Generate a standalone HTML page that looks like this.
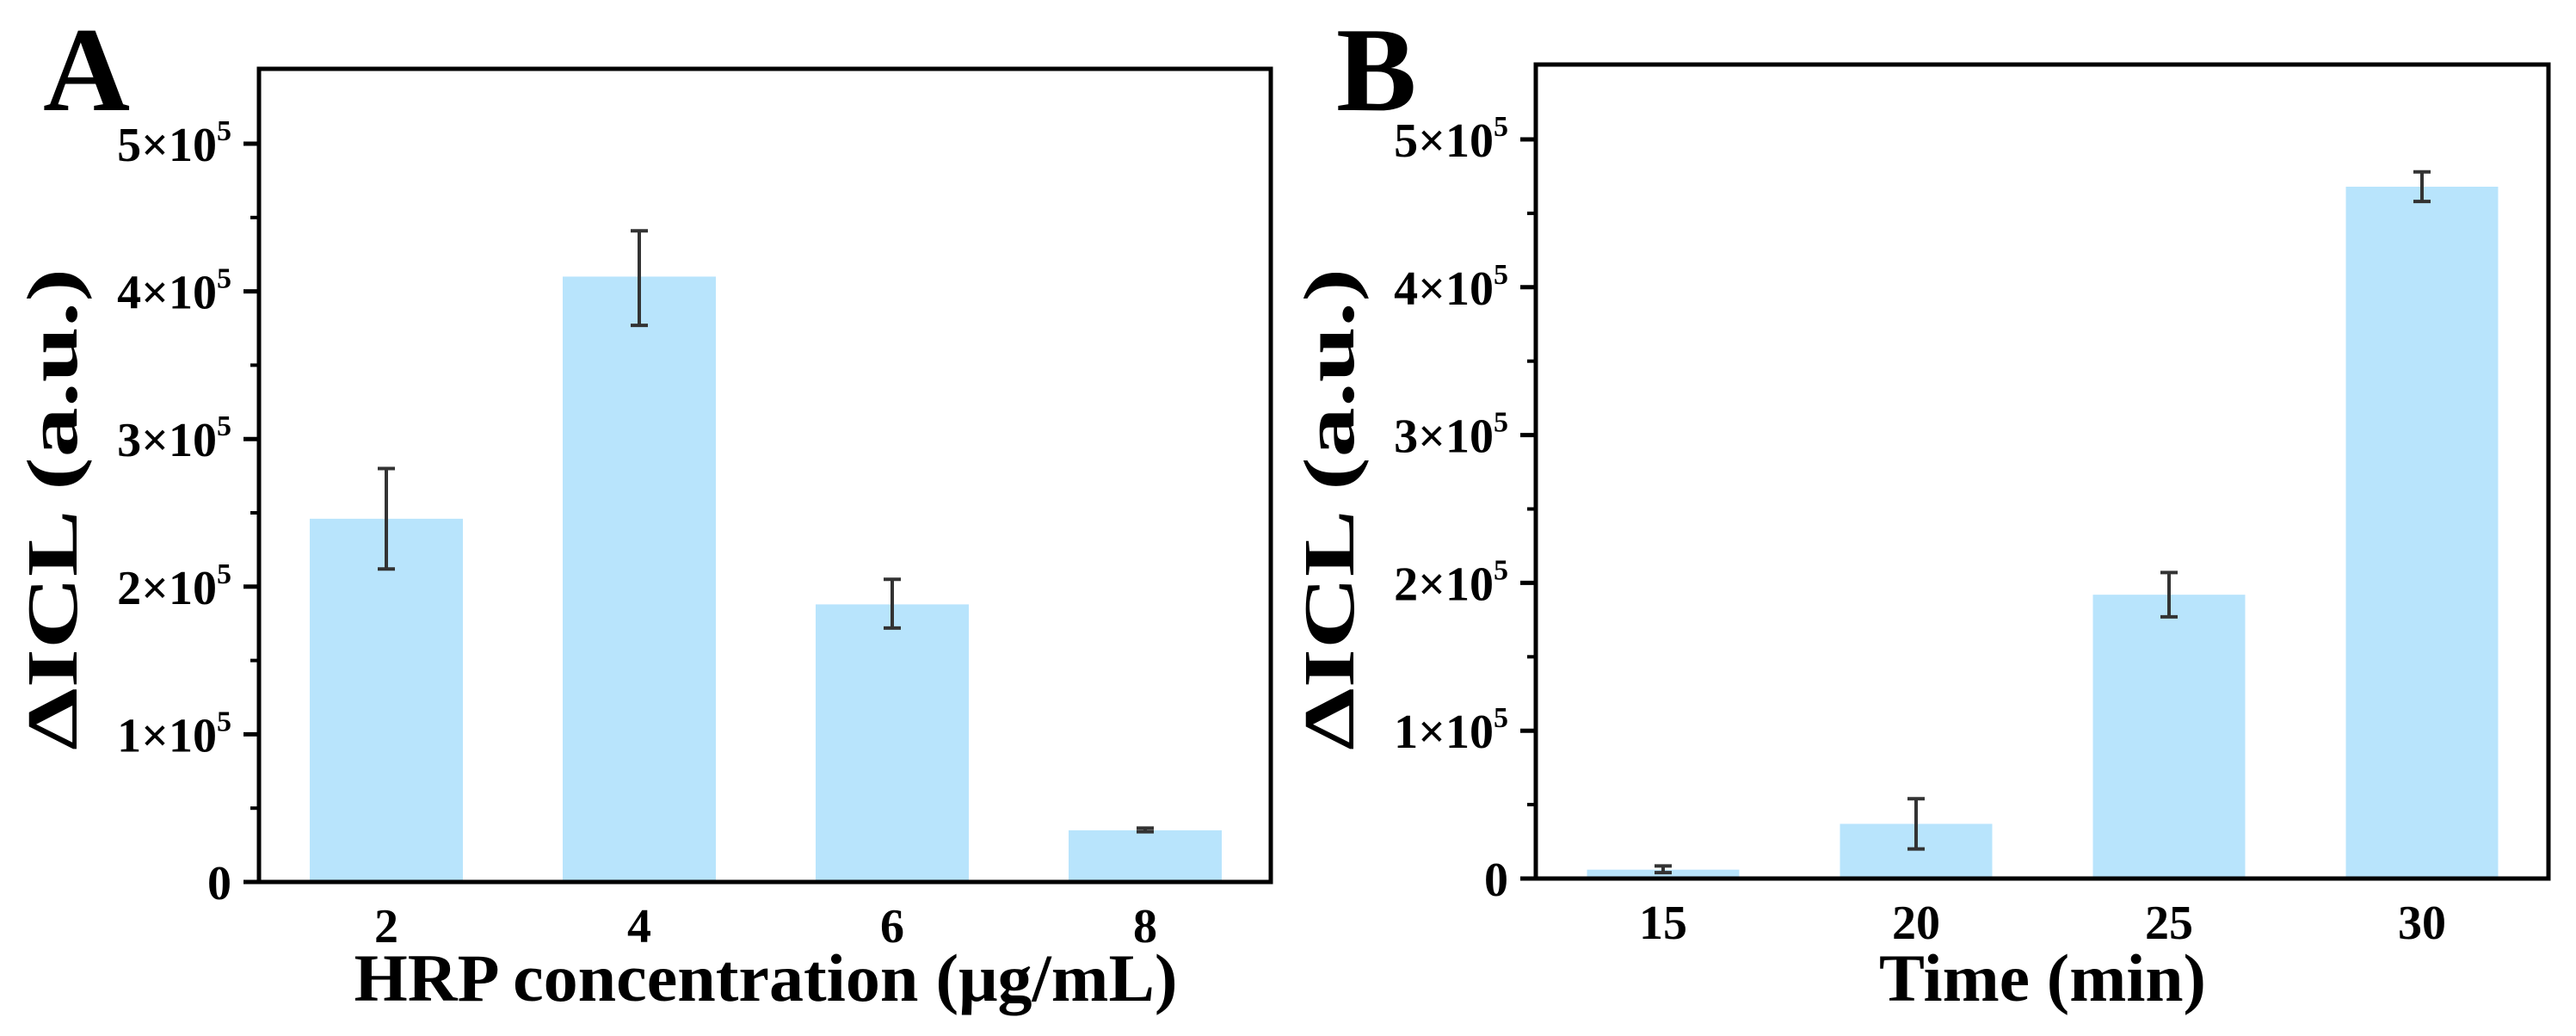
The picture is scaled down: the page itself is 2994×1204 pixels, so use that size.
<!DOCTYPE html>
<html><head><meta charset="utf-8"><style>
html,body{margin:0;padding:0;background:#fff;}
svg{display:block;}
text{font-family:"Liberation Serif","DejaVu Serif",serif;font-weight:bold;fill:#000;}
</style></head><body>
<svg id="fig" width="2994" height="1204" viewBox="0 0 2994 1204" xmlns="http://www.w3.org/2000/svg"></svg>
<script>
const catsA = ["2","4","6","8"];
const valsA = [246000, 410000, 188000, 35000];
const errLoA = [212000, 377000, 172000, 34000];
const errHiA = [280000, 441000, 205000, 36500];
const catsB = ["15","20","25","30"];
const valsB = [6000, 37000, 192000, 468000];
const errLoB = [4000, 20000, 177000, 458000];
const errHiB = [8500, 54000, 207000, 478000];
const yTickVals = [0,100000,200000,300000,400000,500000];
const yTickMant = ["0","1","2","3","4","5"];

const NS = "http://www.w3.org/2000/svg";
const svg = document.getElementById('fig');
function mk(tag, attrs, parent){
  const e = document.createElementNS(NS, tag);
  for (const k in attrs) e.setAttribute(k, attrs[k]);
  (parent||svg).appendChild(e);
  return e;
}

function panel(cfg){
  const g = mk('g', {});
  
  
  const L = cfg.left, R = cfg.right, T = cfg.top, B = cfg.bottom;
  const perUnit = (B - cfg.y5) / 500000;
  const y = v => B - v * perUnit;
  const pitch = cfg.pitch, bw = cfg.barW;
  const x = i => cfg.c0 + i * pitch;

  cfg.vals.forEach((v, i) => {
    const r = mk('rect', {x: x(i) - bw/2, y: y(v), width: bw, height: B - y(v), fill: '#b8e4fc'}, g);
    
    
  });
  cfg.vals.forEach((v, i) => {
    const eg = mk('g', {stroke: '#333', 'stroke-width': 4, fill: 'none'}, g);
    
    
    const yl = y(cfg.lo[i]), yh = y(cfg.hi[i]);
    mk('line', {x1: x(i), x2: x(i), y1: yh, y2: yl}, eg);
    mk('line', {x1: x(i)-10, x2: x(i)+10, y1: yh, y2: yh}, eg);
    mk('line', {x1: x(i)-10, x2: x(i)+10, y1: yl, y2: yl}, eg);
  });

  const frame = mk('rect', {x: L, y: T, width: R - L, height: B - T, fill: 'none', stroke: '#000', 'stroke-width': 5}, g);
  
  

  yTickVals.forEach((v, i) => {
    const t = mk('line', {x1: L - 18, x2: L, y1: y(v), y2: y(v), stroke: '#000', 'stroke-width': 5}, g);
    
    
    if (i < yTickVals.length - 1) {
      const ym = y(v + 50000);
      const m = mk('line', {x1: L - 10, x2: L, y1: ym, y2: ym, stroke: '#000', 'stroke-width': 4}, g);
      
      
    }
    const lab = mk('text', {x: L - 32, y: y(v) + 20, 'font-size': 56, 'text-anchor': 'end'}, g);
    
    
    if (v === 0) { lab.textContent = '0'; }
    else {
      lab.textContent = yTickMant[i] + '\u00d710';
      const s = mk('tspan', {dy: -24, 'font-size': 34}, lab);
      s.textContent = '5';
    }
  });

  cfg.cats.forEach((c, i) => {
    const t = mk('text', {x: x(i), y: B + 70, 'font-size': 56, 'text-anchor': 'middle'}, g);
    
    
    t.textContent = c;
  });

  const xt = mk('text', {x: cfg.xtX, y: 1163, 'font-size': 78, 'text-anchor': 'middle', textLength: cfg.xtLen, lengthAdjust: 'spacingAndGlyphs'}, g);
  
  
  xt.textContent = cfg.xtitle;

  const yt = mk('text', {x: 0, y: 0, 'font-size': 84, 'text-anchor': 'middle', textLength: 560, lengthAdjust: 'spacingAndGlyphs',
    transform: 'translate(' + (L - 212) + ',592) rotate(-90)'}, g);
  
  
  yt.textContent = '\u0394ICL (a.u.)';

  const pl = mk('text', {x: cfg.lx, y: 128, 'font-size': 140}, g);
  
  
  pl.textContent = cfg.label;
}

panel({name: 'panel-a', label: 'A', lx: 50, left: 301, right: 1477, top: 80, bottom: 1025, y5: 167,
  c0: 449, pitch: 294, barW: 178, cats: catsA, vals: valsA, lo: errLoA, hi: errHiA,
  xtitle: 'HRP concentration (\u03bcg/mL)', xtX: 890, xtLen: 957});
panel({name: 'panel-b', label: 'B', lx: 1553, left: 1785, right: 2962, top: 75, bottom: 1021, y5: 162,
  c0: 1933, pitch: 294, barW: 177, cats: catsB, vals: valsB, lo: errLoB, hi: errHiB,
  xtitle: 'Time (min)', xtX: 2374, xtLen: 380});
</script>
</body></html>
